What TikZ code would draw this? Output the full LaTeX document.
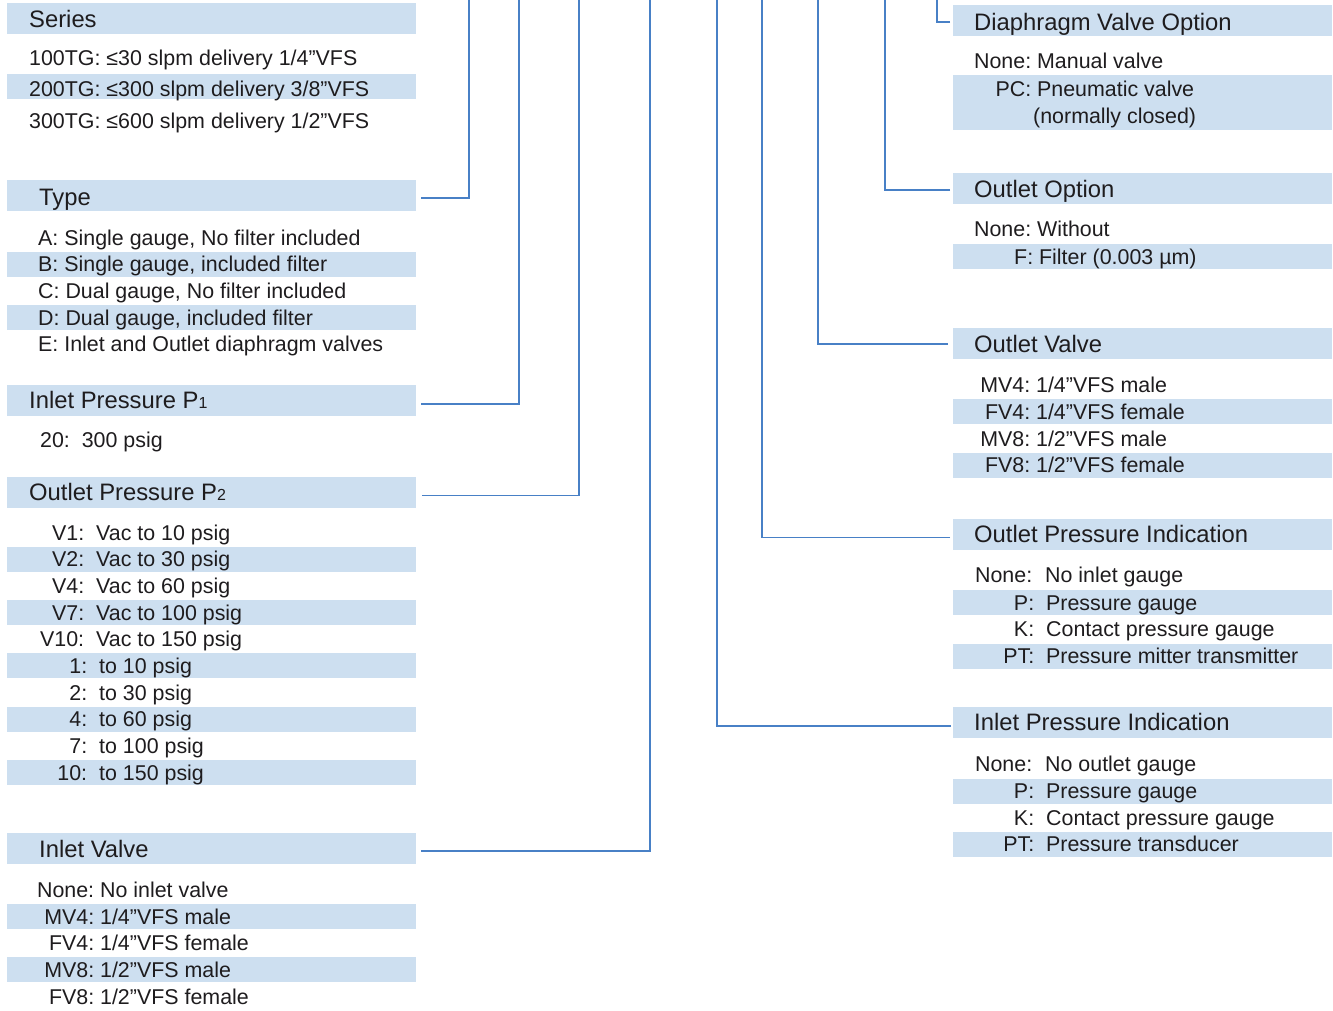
\documentclass[tikz,border=0pt]{standalone}
\usepackage{fontspec}
\setmainfont{Liberation Sans}
\definecolor{bandc}{RGB}{205,223,240}
\definecolor{linec}{RGB}{72,128,198}
\definecolor{textc}{RGB}{30,28,30}
\newcommand{\rlab}[2]{\makebox[#1][r]{#2}}
\newcommand{\subn}[1]{{\fontsize{16}{18}\selectfont #1}}
\tikzset{
  hband/.style={fill=bandc, inner sep=0pt, outer sep=0pt, anchor=north west, minimum height=31pt},
  rband/.style={fill=bandc, inner sep=0pt, outer sep=0pt, anchor=north west, minimum height=25pt},
  lw/.style={minimum width=409pt},
  rw/.style={minimum width=379pt},
  htxt/.style={anchor=base west, inner sep=0pt, text=textc, font=\fontsize{23.8}{28}\selectfont},
  btxt/.style={anchor=base west, inner sep=0pt, text=textc, font=\fontsize{21.4}{26}\selectfont},
  conn/.style={draw=linec, line width=1.4pt}
}
\begin{document}
\begin{tikzpicture}[x=1pt,y=-1pt]
\useasboundingbox (0,0) rectangle (1333,1010);

% ---------------- left column ----------------
% Series
\node[hband,lw] (bSeries) at (7,3) {};
\node[rband,lw] (bS2) at (7,74) {};
\node[htxt] (tSeries) at (29,27) {Series};
\node[btxt] (s1) at (29,65) {100TG: ≤30 slpm delivery 1/4”VFS};
\node[btxt] (s2) at (29,96.5) {200TG: ≤300 slpm delivery 3/8”VFS};
\node[btxt] (s3) at (29,128.5) {300TG: ≤600 slpm delivery 1/2”VFS};

% Type
\node[hband,lw] (bType) at (7,180) {};
\node[rband,lw] (bTB) at (7,251.7) {};
\node[rband,lw] (bTD) at (7,305) {};
\node[htxt] (tType) at (39,205) {Type};
\node[btxt] (ta) at (38,245) {A: Single gauge, No filter included};
\node[btxt] (tb) at (38,271.7) {B: Single gauge, included filter};
\node[btxt] (tc) at (38,298.3) {C: Dual gauge, No filter included};
\node[btxt] (td) at (38,325) {D: Dual gauge, included filter};
\node[btxt] (te) at (38,351.7) {E: Inlet and Outlet diaphragm valves};

% Inlet pressure P1
\node[hband,lw] (bP1) at (7,385) {};
\node[htxt] (tP1) at (29,408) {Inlet Pressure P\subn{1}};
\node[btxt] (p1a) at (40,447) {20:\ \ 300 psig};

% Outlet pressure P2
\node[hband,lw] (bP2) at (7,477) {};
\node[rband,lw] (bP2b) at (7,546.7) {};
\node[rband,lw] (bP2d) at (7,600) {};
\node[rband,lw] (bP2f) at (7,653.3) {};
\node[rband,lw] (bP2h) at (7,706.7) {};
\node[rband,lw] (bP2j) at (7,760) {};
\node[htxt] (tP2) at (29,500.5) {Outlet Pressure P\subn{2}};
\node[btxt] (p2a) at (40,540)   {\rlab{44pt}{V1:}\hspace{12pt}Vac to 10 psig};
\node[btxt] (p2b) at (40,566.7) {\rlab{44pt}{V2:}\hspace{12pt}Vac to 30 psig};
\node[btxt] (p2c) at (40,593.3) {\rlab{44pt}{V4:}\hspace{12pt}Vac to 60 psig};
\node[btxt] (p2d) at (40,620)   {\rlab{44pt}{V7:}\hspace{12pt}Vac to 100 psig};
\node[btxt] (p2e) at (40,646.7) {\rlab{44pt}{V10:}\hspace{12pt}Vac to 150 psig};
\node[btxt] (p2f) at (40,673.3) {\rlab{47pt}{1:}\hspace{12pt}to 10 psig};
\node[btxt] (p2g) at (40,700)   {\rlab{47pt}{2:}\hspace{12pt}to 30 psig};
\node[btxt] (p2h) at (40,726.7) {\rlab{47pt}{4:}\hspace{12pt}to 60 psig};
\node[btxt] (p2i) at (40,753.3) {\rlab{47pt}{7:}\hspace{12pt}to 100 psig};
\node[btxt] (p2j) at (40,780)   {\rlab{47pt}{10:}\hspace{12pt}to 150 psig};

% Inlet valve
\node[hband,lw] (bIV) at (7,833) {};
\node[rband,lw] (bIVb) at (7,904) {};
\node[rband,lw] (bIVd) at (7,957.3) {};
\node[htxt] (tIV) at (39,857) {Inlet Valve};
\node[btxt] (iva) at (30,897.3) {\rlab{64pt}{None:} No inlet valve};
\node[btxt] (ivb) at (30,924)   {\rlab{64pt}{MV4:} 1/4”VFS male};
\node[btxt] (ivc) at (30,950.7) {\rlab{64pt}{FV4:} 1/4”VFS female};
\node[btxt] (ivd) at (30,977.3) {\rlab{64pt}{MV8:} 1/2”VFS male};
\node[btxt] (ive) at (30,1004)  {\rlab{64pt}{FV8:} 1/2”VFS female};

% ---------------- right column ----------------
% Diaphragm valve option
\node[hband,rw] (bDia) at (953,5) {};
\node[fill=bandc, inner sep=0pt, outer sep=0pt, anchor=north west, minimum height=55pt, rw] (bDiaPC) at (953,75) {};
\node[htxt] (tDia) at (974,30) {Diaphragm Valve Option};
\node[btxt] (da) at (960,68.3) {\rlab{71pt}{None:} Manual valve};
\node[btxt] (db) at (960,96)   {\rlab{71pt}{PC:} Pneumatic valve};
\node[btxt] (dc) at (1033,123.3) {(normally closed)};

% Outlet option
\node[hband,rw] (bOO) at (953,173) {};
\node[rband,rw] (bOOb) at (953,244) {};
\node[htxt] (tOO) at (974,197) {Outlet Option};
\node[btxt] (ooa) at (960,236.7) {\rlab{71pt}{None:} Without};
\node[btxt] (oob) at (960,264)   {\rlab{73pt}{F:} Filter (0.003 µm)};

% Outlet valve
\node[hband,rw] (bOV) at (953,328) {};
\node[rband,rw] (bOVb) at (953,399) {};
\node[rband,rw] (bOVd) at (953,453) {};
\node[htxt] (tOV) at (974,352.7) {Outlet Valve};
\node[btxt] (ova) at (960,392.7) {\rlab{70pt}{MV4:} 1/4”VFS male};
\node[btxt] (ovb) at (960,419.3) {\rlab{70pt}{FV4:} 1/4”VFS female};
\node[btxt] (ovc) at (960,446)   {\rlab{70pt}{MV8:} 1/2”VFS male};
\node[btxt] (ovd) at (960,472.7) {\rlab{70pt}{FV8:} 1/2”VFS female};

% Outlet pressure indication
\node[hband,rw] (bOPI) at (953,519) {};
\node[rband,rw] (bOPIb) at (953,590) {};
\node[rband,rw] (bOPId) at (953,644) {};
\node[htxt] (tOPI) at (974,542.7) {Outlet Pressure Indication};
\node[btxt] (opa) at (960,582.7) {\rlab{72pt}{None:}\hspace{13pt}No inlet gauge};
\node[btxt] (opb) at (960,610)   {\rlab{74pt}{P:}\hspace{12pt}Pressure gauge};
\node[btxt] (opc) at (960,636.7) {\rlab{74pt}{K:}\hspace{12pt}Contact pressure gauge};
\node[btxt] (opd) at (960,663.3) {\rlab{74pt}{PT:}\hspace{12pt}Pressure mitter transmitter};

% Inlet pressure indication
\node[hband,rw] (bIPI) at (953,707) {};
\node[rband,rw] (bIPIb) at (953,779) {};
\node[rband,rw] (bIPId) at (953,832) {};
\node[htxt] (tIPI) at (974,730.7) {Inlet Pressure Indication};
\node[btxt] (ipa) at (960,771.7) {\rlab{72pt}{None:}\hspace{13pt}No outlet gauge};
\node[btxt] (ipb) at (960,798.7) {\rlab{74pt}{P:}\hspace{12pt}Pressure gauge};
\node[btxt] (ipc) at (960,825.7) {\rlab{74pt}{K:}\hspace{12pt}Contact pressure gauge};
\node[btxt] (ipd) at (960,851.7) {\rlab{74pt}{PT:}\hspace{12pt}Pressure transducer};

% ---------------- connectors ----------------
\coordinate (topType) at (469,0);
\coordinate (topP1) at (519,0);
\coordinate (topP2) at (579,0);
\coordinate (topIV) at (650,0);
\coordinate (topIPI) at (717,0);
\coordinate (topOPI) at (762,0);
\coordinate (topOV) at (818,0);
\coordinate (topOO) at (885,0);
\coordinate (topDia) at (937,0);

\draw[conn] ([xshift=5pt,yshift=-2.5pt]bType.east) -| (topType);
\draw[conn] ([xshift=5pt,yshift=-3.5pt]bP1.east) -| (topP1);
\draw[conn] ([xshift=6pt,yshift=-3.2pt]bP2.east) -| (topP2);
\draw[conn] ([xshift=5pt,yshift=-2.5pt]bIV.east) -| (topIV);
\draw[conn] ([xshift=-2pt,yshift=-3.5pt]bIPI.west) -| (topIPI);
\draw[conn] ([xshift=-3pt,yshift=-3pt]bOPI.west) -| (topOPI);
\draw[conn] ([xshift=-5pt,yshift=-0.5pt]bOV.west) -| (topOV);
\draw[conn] ([xshift=-3pt,yshift=-1.5pt]bOO.west) -| (topOO);
\draw[conn] ([xshift=-3pt,yshift=-1.5pt]bDia.west) -| (topDia);
\end{tikzpicture}
\end{document}
